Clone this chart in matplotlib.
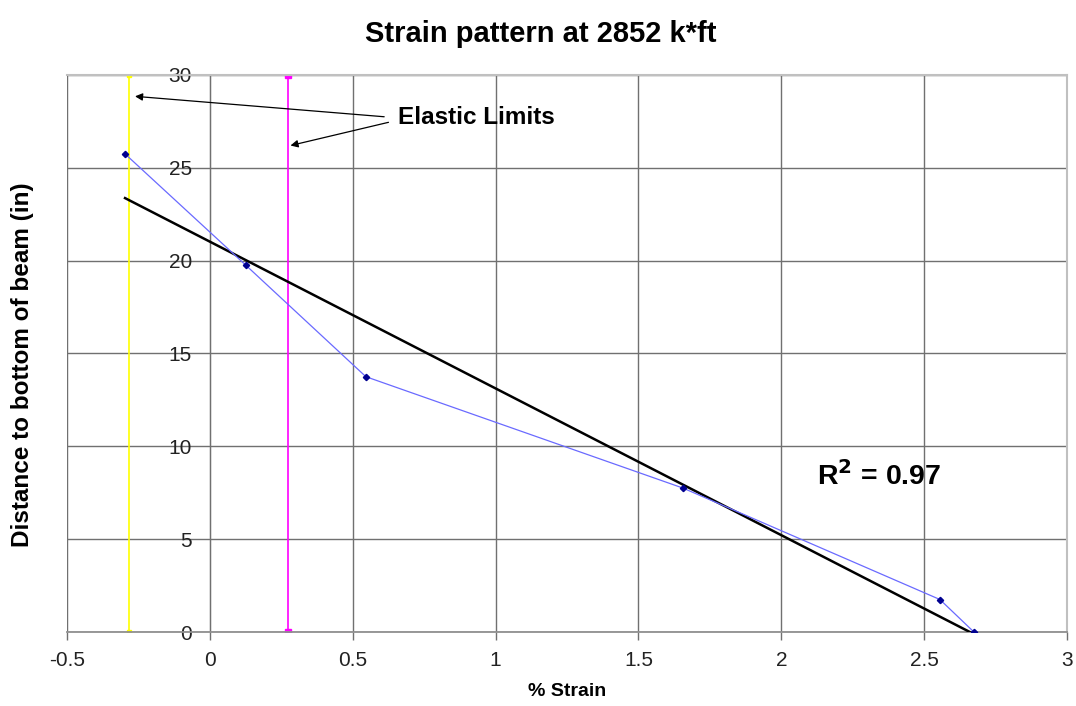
import matplotlib
matplotlib.use("Agg")
import matplotlib.pyplot as plt
import numpy as np

plt.rcParams["font.family"] = ["Liberation Sans", "DejaVu Sans"]

# measured strain profile through the beam depth
strain = [-0.297, 0.126, 0.546, 1.656, 2.555, 2.674]
depth = [25.75, 19.75, 13.75, 7.75, 1.75, 0.0]

# elastic limit strains
limit_low = -0.283
limit_high = 0.273
limit_span = [0, 30]

x_ticks = [-0.5, 0, 0.5, 1, 1.5, 2, 2.5, 3]
y_ticks = [0, 5, 10, 15, 20, 25, 30]


def linear_trend(x, y):
    slope, icpt = np.polyfit(x, y, 1)
    fit = slope * np.asarray(x) + icpt
    ss_res = np.sum((np.asarray(y) - fit) ** 2)
    ss_tot = np.sum((np.asarray(y) - np.mean(y)) ** 2)
    return slope, icpt, 1 - ss_res / ss_tot


fig = plt.figure(figsize=(10.76, 7.06), dpi=100)
ax = fig.add_axes([0.0623, 0.1048, 0.9294, 0.789])

ax.set_xlim(-0.5, 3)
ax.set_ylim(0, 30)
ax.set_xticks(x_ticks)
ax.set_yticks(y_ticks)
ax.set_xticklabels(["-0.5", "0", "0.5", "1", "1.5", "2", "2.5", "3"])
ax.grid(True, color="#707070", lw=1.0)
ax.set_axisbelow(True)

# y axis crosses at zero strain
for side in ["top", "right"]:
    ax.spines[side].set_color("#c0c0c0")
    ax.spines[side].set_linewidth(1.5)
ax.spines["left"].set_position(("data", 0))
ax.spines["left"].set_color("#707070")
ax.spines["bottom"].set_color("#909090")
ax.spines["bottom"].set_linewidth(1.3)
ax.tick_params(axis="x", length=6, width=1, color="#707070", labelsize=15,
               pad=8, labelcolor="#222222")
ax.tick_params(axis="y", length=0, labelsize=15, pad=13, labelcolor="#222222")

# left frame edge
ax.axvline(-0.5, color="#c0c0c0", lw=1.5, zorder=0)

ax.plot([limit_low, limit_low], limit_span, color="#ffff00", lw=1.2,
        marker="s", ms=3, zorder=2)
ax.plot([limit_high, limit_high], limit_span, color="#ff00ff", lw=1.2,
        marker="s", ms=4, zorder=2)

slope, icpt, r2 = linear_trend(strain, depth)
xs = np.array([min(strain), max(strain)])
ax.plot(xs, slope * xs + icpt, color="black", lw=1.8, zorder=3)

ax.plot(strain, depth, color="#6a6aff", lw=0.9, marker="D", ms=3.2,
        mfc="#000090", mec="#000090", zorder=4)

ax.text(2.125, 8.4, "R$^{\\mathbf{2}}$ = %.2f" % r2, fontsize=20.5, fontweight="bold",
        va="center", ha="left")

arrow = dict(arrowstyle="-|>", color="black", lw=0.9, mutation_scale=11,
             shrinkA=0, shrinkB=0)
ax.text(0.658, 27.7, "Elastic Limits", fontsize=17.5, fontweight="bold",
        va="center", ha="left")
ax.annotate("", xy=(-0.262, 28.85), xytext=(0.61, 27.75), arrowprops=arrow)
ax.annotate("", xy=(0.282, 26.2), xytext=(0.625, 27.45), arrowprops=arrow)

fig.suptitle("Strain pattern at 2852 k*ft", fontsize=21, fontweight="bold",
             x=0.503, y=0.972)
ax.set_xlabel("% Strain", fontsize=14, fontweight="bold", labelpad=9)
fig.text(0.021, 0.483, "Distance to bottom of beam (in)", rotation=90,
         fontsize=17.5, fontweight="bold", ha="center", va="center")

fig.savefig("out.png", dpi=100)
